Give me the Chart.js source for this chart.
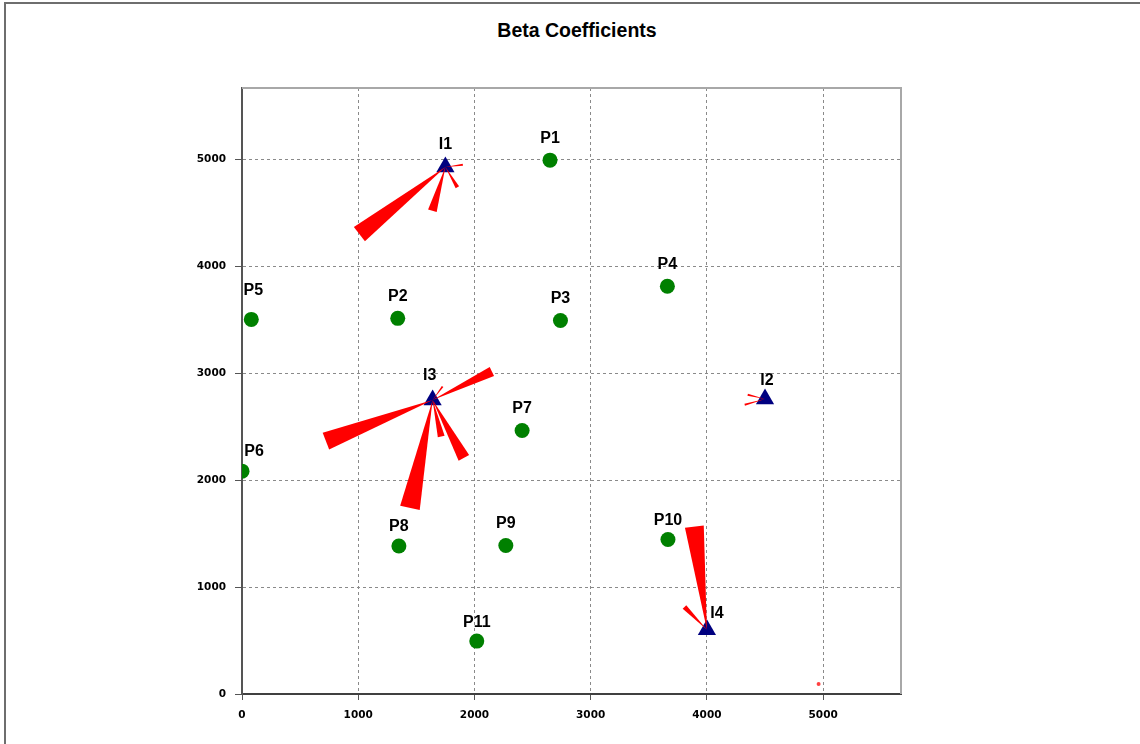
<!DOCTYPE html>
<html>
<head>
<meta charset="utf-8">
<script src="https://cdn.jsdelivr.net/npm/chart.js@4"></script>
<style>
    html, body { margin: 0; padding: 0; background: #fff; }
    body { width: 1140px; height: 744px; position: relative; overflow: hidden; }
    .frame {
        position: absolute; left: 4px; top: 2px; width: 1200px; height: 800px;
        border-left: 2px solid #6e6e6e; border-top: 2px solid #6e6e6e;
    }
    .title {
        position: absolute; left: 0; width: 1154px; top: 19px; text-align: center;
        font: bold 19.5px "Liberation Sans", Arial, sans-serif; color: #000;
    }
    #chart { position: absolute; left: 0; top: 0; }
</style>
</head>
<body>
<div class="frame"></div>
<div class="title">Beta Coefficients</div>
<canvas id="chart" width="1140" height="744"></canvas>
<script>
// --- axis ---
const axisTicks = [0, 1000, 2000, 3000, 4000, 5000];
const axisMax = 5670;

// --- P points (green) ---
const pointNames = ["P1", "P2", "P3", "P4", "P5", "P6", "P7", "P8", "P9", "P10", "P11"];
const pointX = [2650, 1340, 2740, 3660, 80, 0, 2410, 1350, 2270, 3665, 2020];
const pointY = [4995, 3515, 3495, 3815, 3505, 2085, 2465, 1385, 1390, 1445, 495];

// --- I points (navy triangles) ---
const sourceNames = ["I1", "I2", "I3", "I4"];
const sourceX = [1750, 4500, 1640, 4000];
const sourceY = [4930, 2760, 2750, 600];

// --- beta wedges: from an I point to an end point, spread at the far end ---
const betaSource = ["I1", "I1", "I1", "I1", "I2", "I2", "I3", "I3", "I3", "I3", "I3", "I3", "I4", "I4"];
const betaEndX = [1010, 1638, 1853, 1900, 4325, 4351, 722, 2150, 1445, 1909, 1714, 1726, 3892, 3807];
const betaEndY = [4302, 4522, 4742, 4951, 2706, 2800, 2366, 3018, 1742, 2210, 2409, 2877, 1566, 815];
const betaSpread = [155, 77, 34, 17, 17, 17, 155, 86, 172, 103, 60, 17, 163, 43];

// stray red mark near the x axis
const strayX = [4961];
const strayY = [94];

// label nudges (px), default is centred 22px above the mark
const labelNudge = {
    P5: [2, -29], P6: [12, -20], P8: [0, -19], P10: [0, -19], P11: [0, -19],
    I2: [2, -18], I3: [-3, -24], I4: [10, -16]
};

const xy = (xs, ys) => xs.map((x, i) => ({ x: x, y: ys[i] }));

const wedgePlugin = {
    id: "wedges",
    afterDatasetsDraw(chart) {
        const { ctx, scales: { x, y } } = chart;
        const unit = Math.abs(x.getPixelForValue(1000) - x.getPixelForValue(0)) / 1000;
        ctx.save();
        ctx.fillStyle = "#ff0000";
        betaSource.forEach((name, i) => {
            const s = sourceNames.indexOf(name);
            const ox = x.getPixelForValue(sourceX[s]);
            const oy = y.getPixelForValue(sourceY[s]);
            const ex = x.getPixelForValue(betaEndX[i]);
            const ey = y.getPixelForValue(betaEndY[i]);
            const len = Math.hypot(ex - ox, ey - oy);
            const hw = betaSpread[i] * unit / 2;
            const nx = -(ey - oy) / len * hw;
            const ny = (ex - ox) / len * hw;
            ctx.beginPath();
            ctx.moveTo(ox, oy);
            ctx.lineTo(ex + nx, ey + ny);
            ctx.lineTo(ex - nx, ey - ny);
            ctx.closePath();
            ctx.fill();
        });
        ctx.restore();
    }
};

const framePlugin = {
    id: "plotFrame",
    beforeDatasetsDraw(chart) {
        const { ctx, chartArea: a } = chart;
        ctx.save();
        ctx.strokeStyle = "#a8a8a8";
        ctx.lineWidth = 2;
        ctx.beginPath();
        ctx.moveTo(a.left, a.top);
        ctx.lineTo(a.right, a.top);
        ctx.lineTo(a.right, a.bottom);
        ctx.stroke();
        ctx.restore();
    }
};

const labelPlugin = {
    id: "pointLabels",
    afterDraw(chart) {
        const { ctx, scales: { x, y } } = chart;
        ctx.save();
        ctx.font = "bold 16px 'Liberation Sans', Arial, sans-serif";
        ctx.fillStyle = "#000";
        ctx.textAlign = "center";
        ctx.textBaseline = "middle";
        const put = (names, xs, ys) => names.forEach((n, i) => {
            const d = labelNudge[n] || [0, -22];
            ctx.fillText(n, x.getPixelForValue(xs[i]) + d[0], y.getPixelForValue(ys[i]) + d[1]);
        });
        put(pointNames, pointX, pointY);
        put(sourceNames, sourceX, sourceY);
        ctx.restore();
    }
};

const tickFont = { family: "'DejaVu Sans', Verdana, sans-serif", size: 10.5, weight: "bold" };

function axis(fitKey, fitSize, tickLen, pad, lineColor) {
    return {
        type: "linear",
        min: 0,
        max: axisMax,
        afterBuildTicks: s => { s.ticks = axisTicks.map(v => ({ value: v })); },
        afterFit: s => { s[fitKey] = fitSize; },
        ticks: { color: "#000", font: tickFont, padding: pad, callback: v => String(v) },
        grid: { color: "#8a8a8a", lineWidth: 1, tickLength: tickLen, tickColor: "#555", tickWidth: 1 },
        border: { display: true, color: lineColor, width: 2, dash: [3, 3] }
    };
}

new Chart(document.getElementById("chart"), {
    type: "scatter",
    data: {
        datasets: [
            {
                label: "P",
                data: xy(pointX, pointY),
                pointStyle: "circle",
                pointRadius: 7.5,
                backgroundColor: "#008000",
                borderColor: "#008000",
                borderWidth: 0
            },
            {
                label: "I",
                data: xy(sourceX, sourceY),
                pointStyle: "triangle",
                pointRadius: 10.5,
                backgroundColor: "#000080",
                borderColor: "#000080",
                borderWidth: 0
            },
            {
                label: "stray",
                data: xy(strayX, strayY),
                pointRadius: 2,
                backgroundColor: "#ff4040",
                borderWidth: 0
            }
        ]
    },
    options: {
        responsive: false,
        animation: false,
        events: [],
        layout: { padding: { left: 182, right: 239, top: 88, bottom: 10 } },
        plugins: { legend: { display: false }, tooltip: { enabled: false }, title: { display: false } },
        scales: {
            x: axis("height", 40, 6, 9, "#404040"),
            y: axis("width", 60, 7, 9, "#555")
        }
    },
    plugins: [framePlugin, wedgePlugin, labelPlugin]
});
</script>
</body>
</html>
